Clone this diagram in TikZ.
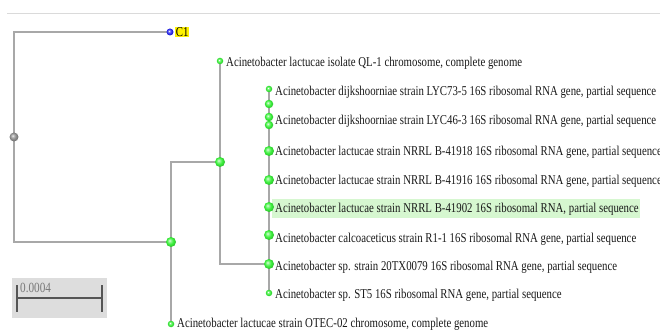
\documentclass[tikz,border=0pt]{standalone}
\usepackage{fontspec}
\setmainfont{Liberation Serif}[FakeStretch=0.8]
\usetikzlibrary{backgrounds}
\definecolor{edgegray}{HTML}{A8A8A8}
\definecolor{leafgreen}{HTML}{3CF03C}
\definecolor{rootgray}{HTML}{8C8C8C}
\definecolor{cblue}{HTML}{2828F0}
\definecolor{hlgreen}{HTML}{D6F7D0}
\definecolor{toprule}{HTML}{DADADA}
\definecolor{scalebg}{HTML}{DDDDDD}
\definecolor{scalebar}{HTML}{555555}
\definecolor{scaletext}{HTML}{7A7A7A}
\pgfdeclareradialshading{gball}{\pgfpoint{-8bp}{8bp}}{color(0bp)=(white); color(4bp)=(leafgreen!45!white); color(16bp)=(leafgreen); color(27bp)=(leafgreen!80!black); color(50bp)=(leafgreen!70!black)}
\pgfdeclareradialshading{grayball}{\pgfpoint{-8bp}{8bp}}{color(0bp)=(white); color(4bp)=(rootgray!45!white); color(16bp)=(rootgray); color(27bp)=(rootgray!80!black); color(50bp)=(rootgray!70!black)}
\pgfdeclareradialshading{blueball}{\pgfpoint{-8bp}{8bp}}{color(0bp)=(white); color(4bp)=(cblue!45!white); color(16bp)=(cblue); color(27bp)=(cblue!80!black); color(50bp)=(cblue!70!black)}
\tikzset{
  ballnode/.style={circle, inner sep=0pt, draw=none, shade, shading=#1},
  leafball/.style={ballnode=gball, minimum size=6.5pt},
  midball/.style={ballnode=gball, minimum size=8.5pt},
  innerball/.style={ballnode=gball, minimum size=10pt},
  lab/.style={anchor=base west, inner sep=0pt, text=black!90, font=\fontsize{13.5}{15}\selectfont},
  edge/.style={draw=edgegray, line width=1.2pt},
}
\begin{document}
\begin{tikzpicture}[x=1pt,y=-1pt]
\useasboundingbox (0,0) rectangle (660,336);
\clip (0,0) rectangle (660,336);

% tree nodes
\node[ballnode=grayball, minimum size=9pt] (root) at (14,137) {};
\node[ballnode=blueball, minimum size=7pt] (c1) at (170,32) {};
\node[innerball] (n1) at (171,242) {};
\node[innerball] (n2) at (220,162) {};
\node[leafball] (ql1) at (220,61) {};
\node[leafball] (otec) at (171,324) {};
\node[innerball] (n3) at (269,264) {};
\node[leafball] (lyc735) at (269,89) {};
\node[midball] (z1) at (269,104) {};
\node[midball] (lyc463) at (269,117) {};
\node[midball] (z2) at (269,125) {};
\node[innerball] (b41918) at (269,151) {};
\node[innerball] (b41916) at (269,180) {};
\node[innerball] (b41902) at (269,207) {};
\node[innerball] (r11) at (269,235) {};
\node[leafball] (st5) at (269,293) {};

% labels
\node[anchor=west, fill=yellow, inner sep=0.6pt, font=\fontsize{13.5}{15}\selectfont] (c1lab) at (175,32) {C1};
\node[lab] (tql1) at (226,66.5) {Acinetobacter lactucae isolate QL-1 chromosome, complete genome};
\node[lab] (tlyc735) at (275,95.5) {Acinetobacter dijkshoorniae strain LYC73-5 16S ribosomal RNA gene, partial sequence};
\node[lab] (tlyc463) at (275,124.5) {Acinetobacter dijkshoorniae strain LYC46-3 16S ribosomal RNA gene, partial sequence};
\node[lab] (tb41918) at (275,155.5) {Acinetobacter lactucae strain NRRL B-41918 16S ribosomal RNA gene, partial sequence};
\node[lab] (tb41916) at (275,184.5) {Acinetobacter lactucae strain NRRL B-41916 16S ribosomal RNA gene, partial sequence};
\node[lab] (tb41902) at (275,212.5) {Acinetobacter lactucae strain NRRL B-41902 16S ribosomal RNA, partial sequence};
\node[lab] (tr11) at (275,242.5) {Acinetobacter calcoaceticus strain R1-1 16S ribosomal RNA gene, partial sequence};
\node[lab] (t20tx) at (275,270.5) {Acinetobacter sp. strain 20TX0079 16S ribosomal RNA gene, partial sequence};
\node[lab] (tst5) at (275,298.5) {Acinetobacter sp. ST5 16S ribosomal RNA gene, partial sequence};
\node[lab] (totec) at (177,327.5) {Acinetobacter lactucae strain OTEC-02 chromosome, complete genome};

% scale bar
\node[anchor=base west, inner sep=0pt, text=scaletext, font=\fontsize{14}{15}\selectfont] (scalelab) at (20,292) {0.0004};

\begin{scope}[on background layer]
  \draw[toprule, line width=1.5pt] (7,13.5) -- (660,13.5);
  \fill[hlgreen] (272,199) rectangle (640,218);
  \fill[scalebg] (12,278) rectangle (107,318);
  \draw[scalebar, line width=1.8pt] (17,285) -- (17,312);
  \draw[scalebar, line width=1.8pt] (102,285) -- (102,312);
  \draw[scalebar, line width=1.8pt] (17,298) -- (102,298);
  % edges
  \draw[edge] (root.center) |- (c1.center);
  \draw[edge] (root.center) |- (n1.center);
  \draw[edge] (n1.center) |- (n2.center);
  \draw[edge] (n1.center) |- (otec.center);
  \draw[edge] (n2.center) |- (ql1.center);
  \draw[edge] (n2.center) |- (n3.center);
  \draw[edge] (n3.center) -- (lyc735.center);
  \draw[edge] (n3.center) -- (st5.center);
\end{scope}
\end{tikzpicture}
\end{document}
